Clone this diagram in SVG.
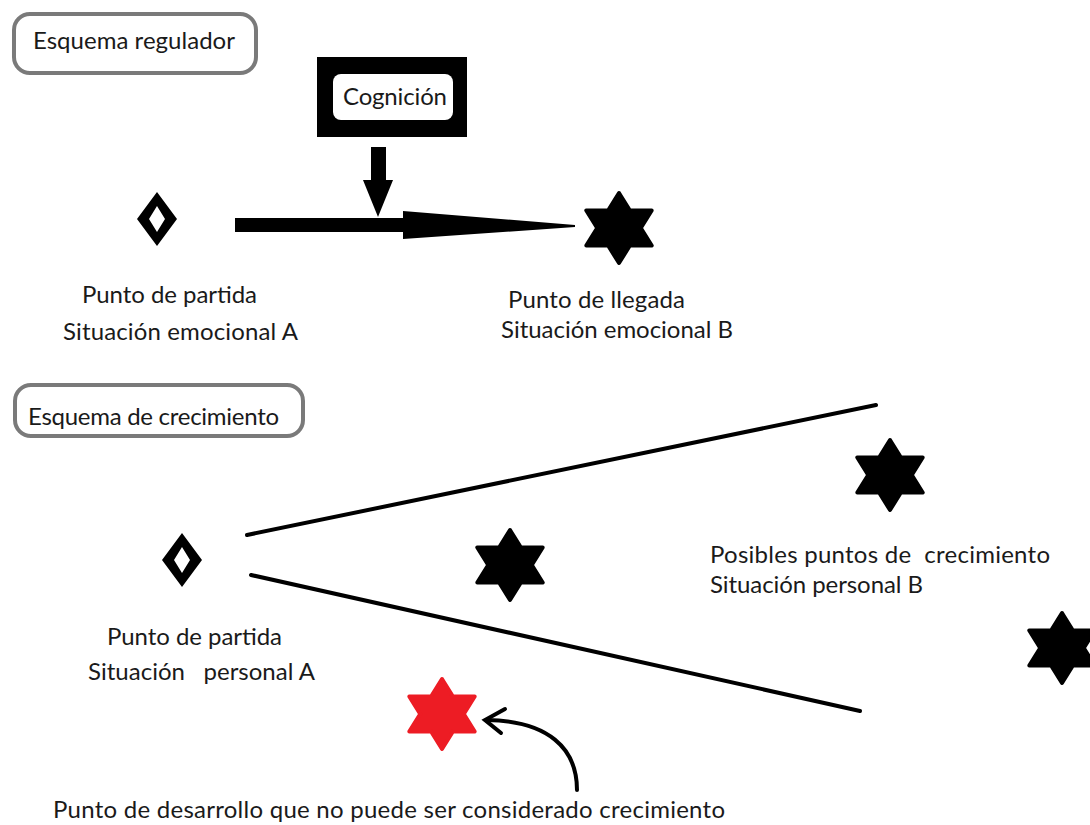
<svg xmlns="http://www.w3.org/2000/svg" xmlns:xlink="http://www.w3.org/1999/xlink" width="1090" height="825" viewBox="0 0 1090 825">
<style>
  .t { font-family: Lato, "Open Sans", "Liberation Sans", sans-serif; font-size: 24px; fill: #1a1a1a; white-space: pre; }
  .lbl { fill: #fff; stroke: #7a7a7a; stroke-width: 4; }
  .line { stroke: #000; stroke-width: 4; fill: none; stroke-linecap: round; }
  .star { stroke-width: 4; stroke-linejoin: round; }
</style>
<defs>
  <path id="star" d="M0,-35 L10.9,-17.5 L32.7,-17.5 L21.8,0 L32.7,17.5 L10.9,17.5 L0,35 L-10.9,17.5 L-32.7,17.5 L-21.8,0 L-32.7,-17.5 L-10.9,-17.5 Z"/>
  <path id="diamond" fill-rule="evenodd" stroke-linejoin="round" d="M0,-27 L20,0 L0,27 L-20,0 Z M0,-13 L-8,0 L0,13 L8,0 Z"/>
</defs>
<rect width="1090" height="825" fill="#fff"/>

<g id="title-regulador">
  <rect class="lbl" x="14" y="14" width="242" height="59" rx="16"/>
  <text class="t" x="33" y="49" textLength="202">Esquema regulador</text>
</g>

<g id="cognicion">
  <rect x="317" y="57" width="150" height="80" fill="#000"/>
  <rect x="333" y="74" width="120" height="46" rx="8" fill="#fff"/>
  <text class="t" x="343" y="105" textLength="104">Cognición</text>
</g>

<g id="partida-a">
  <use href="#diamond" x="157" y="219" fill="#000"/>
  <text class="t" x="82" y="303" textLength="175">Punto de partida</text>
  <text class="t" x="63" y="340" textLength="235">Situación emocional A</text>
</g>

<g id="llegada-b">
  <use href="#star" class="star" x="619" y="228" fill="#000" stroke="#000"/>
  <text class="t" x="508" y="308" textLength="177">Punto de llegada</text>
  <text class="t" x="501" y="338" textLength="232">Situación emocional B</text>
</g>

<g id="title-crecimiento">
  <rect class="lbl" x="15" y="385" width="288" height="51" rx="16"/>
  <text class="t" x="28" y="425" textLength="251">Esquema de crecimiento</text>
</g>

<g id="partida-personal">
  <use href="#diamond" x="182" y="560" fill="#000"/>
  <text class="t" x="107" y="645" textLength="175">Punto de partida</text>
  <text class="t" x="88" y="680" textLength="227">Situación   personal A</text>
</g>

<g id="crecimiento-1">
  <use href="#star" class="star" x="510" y="565" fill="#000" stroke="#000"/>
</g>
<g id="crecimiento-2">
  <use href="#star" class="star" x="890" y="475" fill="#000" stroke="#000"/>
  <text class="t" x="710" y="563" textLength="340">Posibles puntos de  crecimiento</text>
  <text class="t" x="710" y="593" textLength="213">Situación personal B</text>
</g>
<g id="crecimiento-3">
  <use href="#star" class="star" x="1062" y="648" fill="#000" stroke="#000"/>
</g>

<g id="desarrollo">
  <use href="#star" class="star" x="442" y="714" fill="#ED1C24" stroke="#ED1C24"/>
  <text class="t" x="53" y="818" textLength="672">Punto de desarrollo que no puede ser considerado crecimiento</text>
</g>

<g id="connectors">
  <rect x="235" y="218" width="170" height="14" fill="#000"/>
  <polygon points="403,211 575,225 575,227 403,239" fill="#000"/>
  <rect x="371" y="147" width="15" height="35" fill="#000"/>
  <polygon points="363,180 393,180 378,217" fill="#000"/>
  <line class="line" x1="247" y1="535" x2="876" y2="405"/>
  <line class="line" x1="251" y1="575" x2="860" y2="711"/>
  <path class="line" d="M577,790 C577,748 548,721 487,720"/>
  <path class="line" d="M505,709 L485,720 L501,733"/>
</g>
</svg>
